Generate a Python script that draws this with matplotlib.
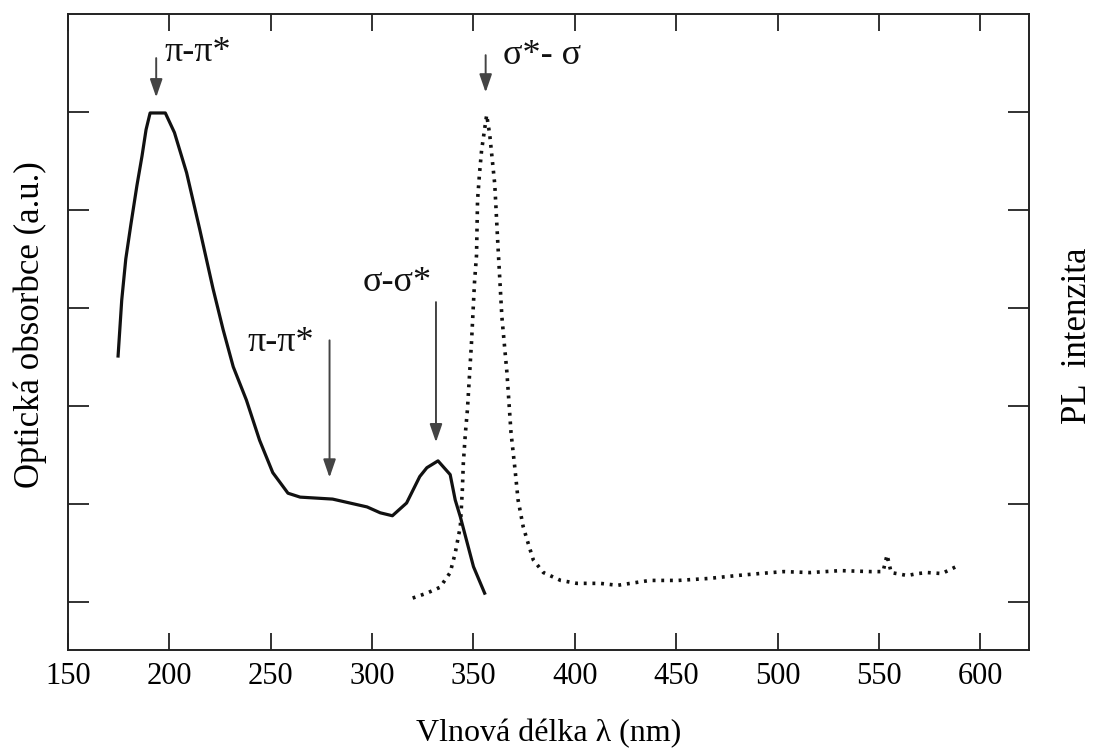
import numpy as np
import matplotlib
matplotlib.use('Agg')
import matplotlib.pyplot as plt

plt.rcParams['font.family'] = ['Liberation Serif', 'DejaVu Serif']

# absorption spectrum (solid)
abs_nm = [174.7, 176.5, 178.5, 181, 184, 186.5, 188.5, 190.5, 198, 202.5, 208.5, 215,
          221.5, 226.5, 231.5, 238, 244.5, 251, 258.5, 264.5, 280.5, 297.5, 304, 310,
          317, 323.5, 327, 332.5, 338.5, 341, 343.5, 350, 355.5]
abs_val = [2.51, 3.08, 3.50, 3.85, 4.25, 4.55, 4.82, 4.99, 4.99, 4.79, 4.38, 3.80,
           3.20, 2.78, 2.40, 2.06, 1.65, 1.32, 1.11, 1.07, 1.05, 0.97, 0.91, 0.88,
           1.01, 1.28, 1.37, 1.44, 1.30, 1.04, 0.87, 0.36, 0.09]

# photoluminescence spectrum (dotted)
pl_nm = [320, 327, 333.5, 338.5, 341, 343.5, 344.5, 345, 346, 347, 348.2, 349, 350.5,
         351.5, 352, 353, 354, 356.5, 358, 360.5, 362, 364, 366.5, 368.5, 370.5, 372,
         374.5, 376.5, 379.5, 384.5, 393, 401, 412.5, 421, 437, 451, 466, 480, 491,
         503, 516, 531, 546, 552, 554, 556, 564, 569, 574, 581, 588]
pl_val = [0.04, 0.09, 0.15, 0.30, 0.50, 0.77, 1.14, 1.42, 1.72, 1.96, 2.37, 2.64, 3.26,
          3.54, 4.10, 4.38, 4.61, 4.97, 4.77, 4.26, 3.66, 2.91, 2.34, 1.73, 1.35, 1.04,
          0.77, 0.63, 0.43, 0.30, 0.22, 0.19, 0.19, 0.17, 0.22, 0.22, 0.24, 0.27, 0.29,
          0.31, 0.30, 0.32, 0.31, 0.31, 0.48, 0.30, 0.27, 0.29, 0.30, 0.29, 0.36]

x_ticks = [150, 200, 250, 300, 350, 400, 450, 500, 550, 600]
y_ticks = [0, 1, 2, 3, 4, 5]

# annotations: label, text pos, arrow start, arrow end
notes = [
    ('π-π*', (197.5, 5.61), (193.5, 5.55), (193.5, 5.15)),
    ('π-π*', (238.5, 2.65), (279.0, 2.67), (279.0, 1.27)),
    ('σ-σ*', (295.5, 3.26), (331.5, 3.06), (331.5, 1.63)),
    ('σ*- σ', (364.5, 5.58), (356.0, 5.58), (356.0, 5.20)),
]

fig = plt.figure(figsize=(10.93, 7.53), dpi=100)
ax = fig.add_axes([68 / 1093, 1 - 650 / 753, (1029 - 68) / 1093, (650 - 14) / 753])

ax.plot(abs_nm, abs_val, color='#111111', lw=2.3, solid_joinstyle='round')
ax.plot(pl_nm, pl_val, color='#111111', lw=2.6, linestyle=(0, (0.8, 1.6)))

for txt, tpos, a0, a1 in notes:
    ax.annotate('', xy=a1, xytext=a0,
                arrowprops=dict(arrowstyle='-|>,head_length=1.1,head_width=0.38',
                                color='#444444', lw=1.4, shrinkA=0, shrinkB=0))
    ax.text(tpos[0], tpos[1], txt, fontsize=26, ha='left', va='center', color='#111111')

ax.set_xlim(150, 624)
ax.set_ylim(-0.49, 6.0)
ax.set_xticks(x_ticks)
ax.set_yticks(y_ticks)
ax.set_yticklabels([])
ax.tick_params(axis='both', direction='in', top=True, right=True, width=1.3, color='#222222')
ax.tick_params(axis='x', length=12, labelsize=22, pad=9)
ax.tick_params(axis='y', length=15)
for s in ax.spines.values():
    s.set_linewidth(1.4)
    s.set_color('#222222')

ax.set_xlabel('Vlnová délka λ (nm)', fontsize=23)
ax.xaxis.set_label_coords(0.5, -0.108)
ax.set_ylabel('Optická obsorbce (a.u.)', fontsize=25)
ax.yaxis.set_label_coords(-0.022, 0.511)
fig.text(1078 / 1093, 1 - 336 / 753, 'PL  intenzita', fontsize=25, rotation=90,
         ha='center', va='center')

plt.savefig('out.png', dpi=100)
